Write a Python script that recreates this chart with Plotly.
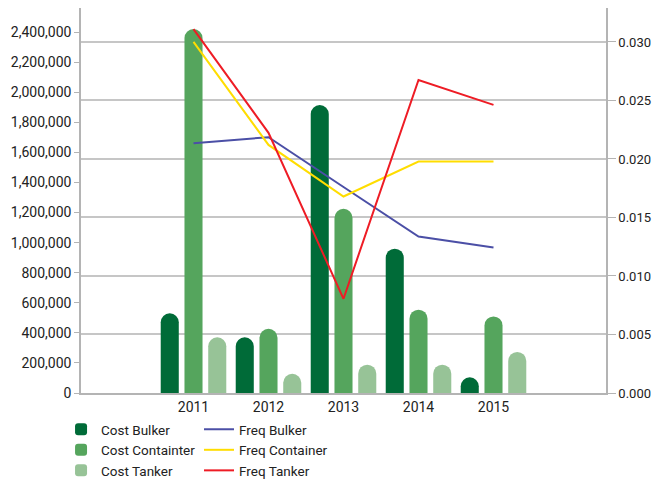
import plotly.graph_objects as go

years = ["2011", "2012", "2013", "2014", "2015"]
cost_bulker = [530000, 370000, 1915000, 960000, 104000]
cost_container = [2420000, 427000, 1225000, 554000, 509000]
cost_tanker = [370000, 128000, 188000, 188000, 273000]
freq_bulker = [0.02135, 0.02186, 0.0176, 0.01337, 0.01243]
freq_container = [0.0300, 0.0212, 0.01679, 0.01978, 0.01978]
freq_tanker = [0.0311, 0.02223, 0.00805, 0.02675, 0.02462]

c_bulk, c_cont, c_tank = "#006b38", "#55a55d", "#97c397"
l_bulk, l_cont, l_tank = "#4b4fa6", "#ffdd00", "#ee1c25"

fig = go.Figure()
bars = [("Cost Bulker", cost_bulker, c_bulk), ("Cost Containter", cost_container, c_cont),
        ("Cost Tanker", cost_tanker, c_tank)]
lines = [("Freq Bulker", freq_bulker, l_bulk), ("Freq Container", freq_container, l_cont),
         ("Freq Tanker", freq_tanker, l_tank)]
for bn, bv, bc in bars:
    fig.add_trace(go.Bar(name=bn, x=years, y=bv,
                         marker=dict(color=bc, cornerradius="50%", line_width=0),
                         yaxis="y", legend="legend"))
for ln, lv, lc in lines:
    fig.add_trace(go.Scatter(name=ln, x=years, y=lv, mode="lines",
                             line=dict(color=lc, width=2), yaxis="y2", legend="legend2"))

font = dict(family="Roboto, sans-serif", size=14, color="#222222")
lfont = dict(family="Roboto, sans-serif", size=13.5, color="#222222")
grey = "#b4b4b4"
fig.update_layout(
    width=652, height=480,
    margin=dict(l=81, r=46, t=8, b=87, autoexpand=False),
    paper_bgcolor="white", plot_bgcolor="white",
    font=font,
    barmode="group", bargap=0.05, bargroupgap=0.24,
    showlegend=True,
    legend=dict(orientation="v", x=-0.038, xanchor="left", y=-0.0545, yanchor="top",
                font=lfont, tracegroupgap=0, traceorder="normal", bgcolor="rgba(0,0,0,0)"),
    legend2=dict(orientation="v", x=0.2248, xanchor="left", y=-0.0545, yanchor="top",
                 font=lfont, tracegroupgap=0, traceorder="normal", bgcolor="rgba(0,0,0,0)"),
    xaxis=dict(type="category", range=[-1.5, 5.5], showline=True, linecolor=grey, linewidth=1.5,
               ticks="", showgrid=False, tickfont=font),
    yaxis=dict(range=[0, 2560000], dtick=200000, tickformat=",d", showgrid=False, showline=True,
               linecolor=grey, linewidth=1.5, ticks="outside", ticklen=5, tickcolor=grey,
               zeroline=False, tickfont=font),
    yaxis2=dict(range=[0, 0.0329], dtick=0.005, tickformat=".3f", overlaying="y", side="right",
                showgrid=True, gridcolor="#c6c6c6", gridwidth=2, showline=True, linecolor=grey,
                linewidth=1.5, ticks="outside", ticklen=8, tickcolor=grey, zeroline=False,
                tickfont=dict(family="Roboto, sans-serif", size=13, color="#222222")),
)

fig.write_html("out.html", config={"displayModeBar": False},
               post_script="document.body.style.margin='0';")
